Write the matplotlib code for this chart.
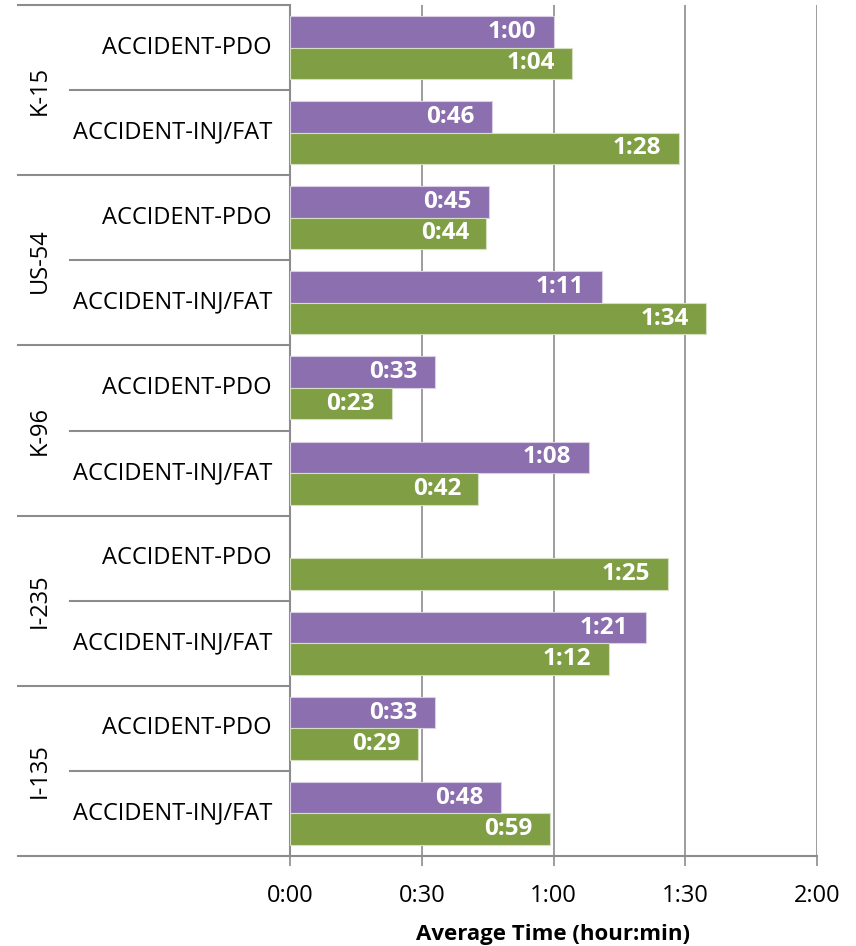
import numpy as np
import matplotlib
matplotlib.use('Agg')
import matplotlib.pyplot as plt
import matplotlib.transforms as mtransforms

plt.rcParams['font.family'] = ['Open Sans', 'DejaVu Sans']

roads = ['K-15', 'US-54', 'K-96', 'I-235', 'I-135']
types = ['ACCIDENT-PDO', 'ACCIDENT-INJ/FAT']
# average time in minutes, top to bottom (road x type)
purple_min = [60.1, 46.0, 45.2, 71.0, 33.0, 68.0, np.nan, 81.0, 33.0, 48.1]
green_min = [64.2, 88.5, 44.7, 94.8, 23.2, 42.9, 86.0, 72.6, 29.2, 59.2]
purple_lbl = ['1:00', '0:46', '0:45', '1:11', '0:33', '1:08', '', '1:21', '0:33', '0:48']
green_lbl = ['1:04', '1:28', '0:44', '1:34', '0:23', '0:42', '1:25', '1:12', '0:29', '0:59']
xticks_min = [0, 30, 60, 90, 120]
xtick_lbl = ['0:00', '0:30', '1:00', '1:30', '2:00']

purple = '#8B6FAE'
green = '#809F45'
gray = '#8C8C8C'

fig = plt.figure(figsize=(8.56, 9.46), dpi=100)
ax = fig.add_axes([290/856, 90/946, (817-290)/856, (856-5)/946])

n = len(purple_min)
y = np.arange(n) + 0.5
h = 0.37
ax.barh(y - h/2, purple_min, height=h, color=purple, edgecolor='#D9D0E6', linewidth=0.8, zorder=3)
ax.barh(y + h/2, green_min, height=h, color=green, edgecolor='#D5E0C2', linewidth=0.8, zorder=3)

for i in range(n):
    for val, lbl, yy in ((purple_min[i], purple_lbl[i], y[i] - h/2),
                         (green_min[i], green_lbl[i], y[i] + h/2)):
        if np.isnan(val):
            continue
        ax.annotate(lbl, (val, yy), xytext=(-12.5, 0), textcoords='offset points',
                    ha='right', va='center', color='white', fontsize=17.5,
                    fontweight='bold', zorder=4)

ax.set_xlim(0, 120)
ax.set_ylim(n, 0)
ax.set_xticks(xticks_min)
ax.set_xticklabels(xtick_lbl, fontsize=17)
ax.set_yticks([])
ax.tick_params(axis='x', length=7, color=gray, width=1.2, pad=13)
ax.grid(axis='x', color=gray, linewidth=1.2, zorder=0)
for s in ['top', 'right']:
    ax.spines[s].set_visible(False)
for s in ['left', 'bottom']:
    ax.spines[s].set_color(gray)
    ax.spines[s].set_linewidth(1.5)
ax.set_xlabel('Average Time (hour:min)', fontsize=16, fontweight='bold', labelpad=12)

# hierarchical category labels on the left
trans = mtransforms.blended_transform_factory(fig.transFigure, ax.transData)
x_outer = 18/856
x_inner = 70/856
x_axis = 290/856
for k in range(n + 1):
    x0 = x_outer if k % 2 == 0 else x_inner
    ax.plot([x0, x_axis], [k, k], transform=trans, color=gray, linewidth=1.5, clip_on=False)
for i in range(n):
    ax.text(272/856, y[i], types[i % 2], transform=trans, ha='right', va='center', fontsize=17)
for j, r in enumerate(roads):
    ax.text(40/856, 2*j + 1, r, transform=trans, ha='center', va='center', rotation=90, fontsize=17)

fig.savefig('out.png', dpi=100)
